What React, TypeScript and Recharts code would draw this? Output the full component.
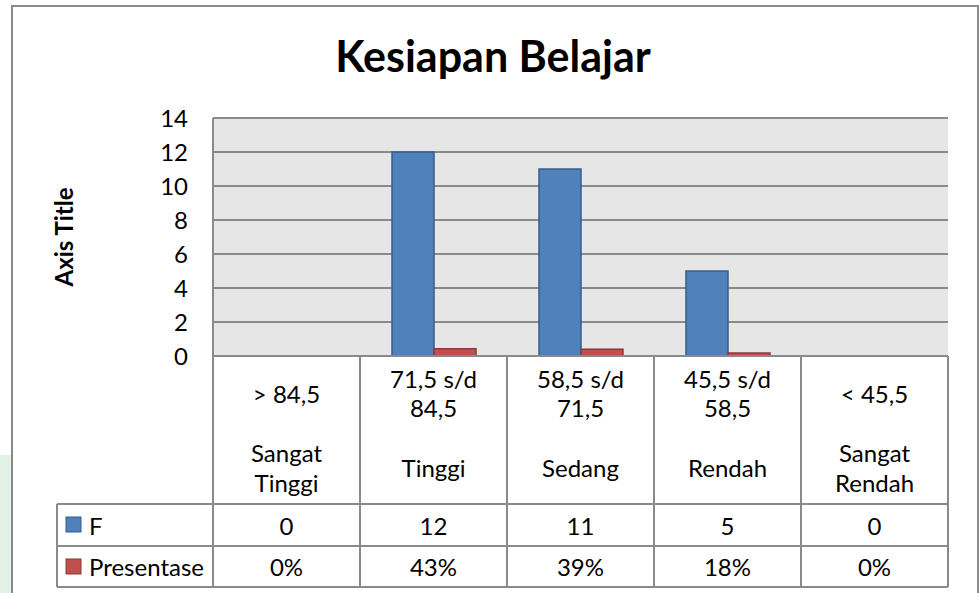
import { Bar, BarChart, CartesianGrid, XAxis, YAxis } from "recharts"

const rangeLabels = [["> 84,5"], ["71,5 s/d", "84,5"], ["58,5 s/d", "71,5"], ["45,5 s/d", "58,5"], ["< 45,5"]]
const classLabels = [["Sangat", "Tinggi"], ["Tinggi"], ["Sedang"], ["Rendah"], ["Sangat", "Rendah"]]
const frequency = [0, 12, 11, 5, 0]
const percentage = [0, 0.43, 0.39, 0.18, 0]
const yTicks = [0, 2, 4, 6, 8, 10, 12, 14]

const data = frequency.map((f, i) => ({
  name: i,
  F: f,
  Presentase: percentage[i],
}))

const font = "Lato, 'Open Sans', sans-serif"
const lineColor = "#8a8a8a"
const plotLeft = 213
const plotRight = 948
const axisTop = 356
const rowF = 504
const rowP = 546
const rowEnd = 587
const headerLeft = 57

const TableTick = (props: any) => {
  const { x, y, payload, index } = props
  const bw = (plotRight - plotLeft) / data.length
  const left = x - bw / 2
  const right = x + bw / 2
  const r = rangeLabels[index]
  const c = classLabels[index]
  const rangeY = r.length === 1 ? [393] : [378, 407]
  const classY = c.length === 1 ? [467] : [452, 482]
  const txt = { fontFamily: font, fontSize: 24, fill: "#000", textAnchor: "middle" as const, dominantBaseline: "central" as const }
  return (
    <g>
      {index === 0 && (
        <g>
          <line x1={left} y1={y} x2={left} y2={rowEnd} stroke={lineColor} strokeWidth={2} />
          <line x1={headerLeft} y1={rowF} x2={left} y2={rowF} stroke={lineColor} strokeWidth={2} />
          <line x1={headerLeft} y1={rowP} x2={left} y2={rowP} stroke={lineColor} strokeWidth={2} />
          <line x1={headerLeft} y1={rowEnd} x2={left} y2={rowEnd} stroke={lineColor} strokeWidth={2} />
          <line x1={headerLeft} y1={rowF} x2={headerLeft} y2={rowEnd} stroke={lineColor} strokeWidth={2} />
          <rect x={66} y={517} width={15} height={15} fill="#4f81bd" stroke="#385d8a" strokeWidth={1} />
          <text x={89} y={(rowF + rowP) / 2} fontFamily={font} fontSize={24} dominantBaseline="central">F</text>
          <rect x={66} y={559} width={15} height={15} fill="#c0504d" stroke="#8c3836" strokeWidth={1} />
          <text x={89} y={(rowP + rowEnd) / 2} fontFamily={font} fontSize={24} dominantBaseline="central">Presentase</text>
        </g>
      )}
      <line x1={right} y1={y} x2={right} y2={rowEnd} stroke={lineColor} strokeWidth={2} />
      <line x1={left} y1={rowF} x2={right} y2={rowF} stroke={lineColor} strokeWidth={2} />
      <line x1={left} y1={rowP} x2={right} y2={rowP} stroke={lineColor} strokeWidth={2} />
      <line x1={left} y1={rowEnd} x2={right} y2={rowEnd} stroke={lineColor} strokeWidth={2} />
      {r.map((t, i) => (
        <text key={"r" + i} x={x} y={rangeY[i]} {...txt}>{t}</text>
      ))}
      {c.map((t, i) => (
        <text key={"c" + i} x={x} y={classY[i]} {...txt}>{t}</text>
      ))}
      <text x={x} y={(rowF + rowP) / 2} {...txt}>{frequency[payload.value]}</text>
      <text x={x} y={(rowP + rowEnd) / 2} {...txt}>{Math.round(percentage[payload.value] * 100) + "%"}</text>
    </g>
  )
}

const AxisTitle = (props: any) => {
  const vb = props.viewBox
  const cx = vb.x + 63
  const cy = vb.y + vb.height / 2
  return (
    <text x={cx} y={cy} transform={`rotate(-90 ${cx} ${cy})`} textAnchor="middle" dominantBaseline="central"
      fontFamily={font} fontSize={24} fontWeight="bold" fill="#000">
      Axis Title
    </text>
  )
}

export default function App() {
  return (
    <div style={{ position: "absolute", left: 0, top: 0, width: 980, height: 593, background: "#fff", overflow: "hidden" }}>
      <svg width={980} height={593} style={{ position: "absolute", left: 0, top: 0 }}>
        <rect x={0} y={455} width={11} height={138} fill="#e3f2e6" />
        <rect x={12} y={6} width={966} height={700} fill="none" stroke={lineColor} strokeWidth={2} />
        <text x={493} y={72} textAnchor="middle" fontFamily={font} fontSize={43} fontWeight="bold" fill="#000">
          Kesiapan Belajar
        </text>
      </svg>
      <div style={{ position: "absolute", left: 0, top: 0 }}>
        <BarChart width={980} height={593} data={data} margin={{ top: 118, right: 980 - plotRight, bottom: 0, left: 0 }} barSize={42} barGap={0}>
          <CartesianGrid vertical={false} fill="#e6e6e6" stroke={lineColor} strokeWidth={2} />
          <XAxis dataKey="name" height={593 - axisTop} interval={0} tickLine={false} tickSize={0} tickMargin={0}
            axisLine={{ stroke: lineColor, strokeWidth: 2 }} tick={<TableTick />} />
          <YAxis width={plotLeft} domain={[0, 14]} ticks={yTicks} interval={0} tickLine={false} tickSize={0} tickMargin={25}
            axisLine={{ stroke: lineColor, strokeWidth: 2 }}
            tick={{ fontFamily: font, fontSize: 24, fill: "#000" }}
            label={{ content: <AxisTitle /> }} />
          <Bar dataKey="F" fill="#4f81bd" stroke="#385d8a" strokeWidth={1.5} isAnimationActive={false} />
          <Bar dataKey="Presentase" fill="#c0504d" stroke="#8c3836" strokeWidth={1.5} isAnimationActive={false} />
        </BarChart>
      </div>
    </div>
  )
}
